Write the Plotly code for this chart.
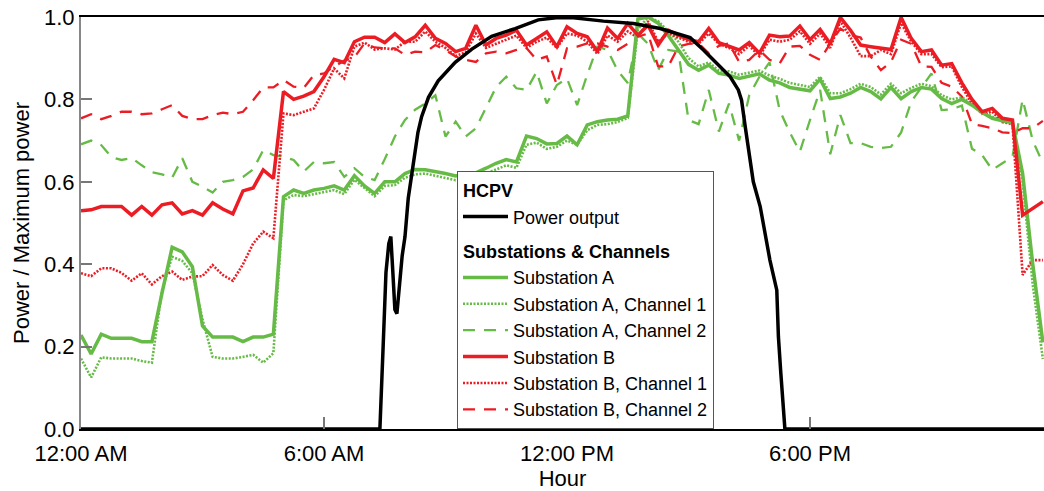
import plotly.graph_objects as go

# 15-minute time grid (hours after midnight)
hours = [k * 0.25 for k in range(96)]

sub_a = [0.228,0.182,0.23,0.22,0.22,0.22,0.212,0.212,0.33,0.441,0.43,0.394,0.25,0.223,0.223,0.223,0.212,0.223,0.223,0.23,
         0.564,0.58,0.572,0.58,0.584,0.59,0.58,0.615,0.59,0.572,0.60,0.60,0.62,0.63,0.629,0.625,0.62,0.614,0.619,0.622,
         0.633,0.645,0.654,0.648,0.711,0.705,0.692,0.693,0.711,0.69,0.738,0.746,0.75,0.752,
         0.76,0.995,1.0,0.985,0.955,0.92,0.885,0.871,0.883,0.863,
         0.859,0.851,0.857,0.862,0.847,0.84,0.829,0.825,0.821,0.849,0.802,0.806,0.815,0.829,0.819,0.801,
         0.829,0.802,0.819,0.829,0.825,0.802,0.79,0.80,0.786,0.768,0.754,0.748,0.743,0.62,0.40,0.21]

sub_a_ch1 = [0.171,0.125,0.174,0.171,0.171,0.171,0.165,0.161,0.337,0.418,0.408,0.378,0.266,0.175,0.171,0.171,0.175,0.18,0.161,0.184,
             0.555,0.568,0.565,0.57,0.575,0.58,0.57,0.605,0.585,0.565,0.59,0.592,0.61,0.618,0.62,0.615,0.61,0.604,0.61,0.612,
             0.62,0.63,0.64,0.634,0.69,0.695,0.68,0.685,0.70,0.69,0.725,0.738,0.74,0.745,
             0.755,0.97,1.0,0.99,0.965,0.94,0.9,0.88,0.89,0.87,
             0.868,0.86,0.865,0.87,0.858,0.85,0.84,0.835,0.83,0.855,0.815,0.815,0.825,0.838,0.83,0.812,
             0.838,0.815,0.828,0.838,0.832,0.81,0.8,0.805,0.79,0.772,0.758,0.75,0.745,0.6,0.35,0.17]

sub_a_ch2 = [0.691,0.70,0.689,0.66,0.653,0.658,0.64,0.623,0.618,0.61,0.657,0.60,0.588,0.574,0.60,0.604,0.612,
             0.63,0.677,0.665,0.661,0.653,0.625,0.648,0.645,0.648,0.612,0.633,0.612,0.604,0.655,0.71,
             0.75,0.775,0.79,0.81,0.71,0.746,0.71,0.73,0.78,0.83,0.855,0.827,0.823,0.867,0.79,0.835,
             0.851,0.786,0.86,0.928,0.92,0.87,0.84,0.96,0.935,0.871,0.92,0.916,0.75,0.74,0.823,0.722,
             0.79,0.70,0.81,0.855,0.89,0.774,0.72,0.673,0.75,0.823,0.667,0.762,0.694,0.694,0.685,0.682,
             0.685,0.72,0.795,0.83,0.863,0.774,0.776,0.785,0.68,0.665,0.629,0.645,0.661,0.80,0.70,0.645]

sub_b = [0.53,0.532,0.54,0.54,0.54,0.519,0.54,0.519,0.544,0.549,0.522,0.53,0.519,0.549,0.534,0.522,
         0.578,0.585,0.629,0.608,0.819,0.80,0.808,0.819,0.855,0.897,0.889,0.94,0.951,0.951,0.938,0.959,
         0.938,0.952,0.98,0.948,0.936,0.916,0.924,0.98,0.932,0.948,0.956,0.968,0.932,0.948,0.964,0.928,
         0.976,0.96,0.952,0.916,0.973,0.948,0.984,0.956,0.98,0.932,0.968,0.956,0.945,0.94,0.972,0.938,
         0.93,0.92,0.938,0.912,0.956,0.952,0.954,0.978,0.945,0.97,0.935,0.999,0.968,0.932,0.928,0.925,
         0.921,0.999,0.948,0.916,0.92,0.883,0.887,0.84,0.80,0.77,0.778,0.754,0.75,0.519,0.536,0.552]

sub_b_ch1 = [0.378,0.371,0.39,0.39,0.379,0.36,0.378,0.351,0.371,0.382,0.362,0.37,0.371,0.398,0.374,0.36,
             0.40,0.45,0.479,0.463,0.766,0.762,0.77,0.778,0.823,0.875,0.851,0.928,0.938,0.921,0.924,0.921,
             0.94,0.94,0.965,0.94,0.925,0.905,0.915,0.96,0.925,0.935,0.945,0.955,0.925,0.94,0.95,0.925,
             0.96,0.955,0.94,0.91,0.955,0.94,0.965,0.95,0.99,0.94,0.96,0.95,0.94,0.935,0.96,0.935,
             0.925,0.91,0.93,0.905,0.945,0.94,0.945,0.965,0.935,0.96,0.925,0.99,0.95,0.905,0.905,0.92,
             0.91,0.985,0.94,0.91,0.91,0.878,0.88,0.83,0.79,0.765,0.77,0.745,0.74,0.374,0.41,0.41]

sub_b_ch2 = [0.754,0.764,0.752,0.76,0.77,0.77,0.764,0.766,0.776,0.786,0.76,0.752,0.752,0.762,0.768,0.764,
             0.77,0.798,0.829,0.829,0.847,0.831,0.828,0.859,0.863,0.88,0.894,0.902,0.936,0.926,0.924,0.924,
             0.908,0.916,0.914,0.932,0.92,0.904,0.896,0.891,0.912,0.916,0.912,0.92,0.925,0.896,0.904,0.835,
             0.924,0.928,0.936,0.936,0.928,0.92,0.935,0.952,0.96,0.88,0.88,0.928,0.935,0.936,0.912,0.93,
             0.936,0.891,0.896,0.92,0.896,0.887,0.928,0.93,0.908,0.896,0.936,0.972,0.956,0.95,0.904,0.871,
             0.891,0.945,0.935,0.88,0.879,0.84,0.831,0.807,0.74,0.736,0.73,0.72,0.718,0.73,0.73,0.748]

hcpv_hours = [0, 7.38, 7.46, 7.53, 7.60, 7.65, 7.70, 7.75, 7.80, 7.85, 7.93, 8.0, 8.08, 8.17, 8.25, 8.32,
              8.41, 8.58, 8.82, 9.24, 9.65, 10.14, 10.72, 11.29, 11.79, 12.16, 12.9, 13.64, 14.3, 14.79,
              15.04, 15.37, 15.7, 16.03, 16.23, 16.31, 16.4, 16.52, 16.6, 16.77, 16.93, 17.01, 17.18,
              17.22, 17.28, 17.38, 23.78]
hcpv_power = [0, 0, 0.20, 0.38, 0.45, 0.467, 0.38, 0.29, 0.28, 0.33, 0.42, 0.467, 0.56, 0.62, 0.677, 0.72,
              0.758, 0.805, 0.845, 0.89, 0.922, 0.953, 0.972, 0.993, 0.999, 0.998, 0.99, 0.984, 0.972, 0.958,
              0.95, 0.92, 0.887, 0.855, 0.823, 0.798, 0.734, 0.653, 0.60, 0.54, 0.459, 0.41, 0.337,
              0.224, 0.135, 0, 0]

tick_vals = [0, 6, 12, 18]
tick_text = ["12:00 AM", "6:00 AM", "12:00 PM", "6:00 PM"]

GREEN = "#66bb46"
RED = "#ec1c24"
DOT = "2px,1.5px"
DASH = "12px,9px"
GROUP = "subs"
GROUP_TITLE = dict(text="<b>Substations & Channels</b>", font=dict(size=18))

fig = go.Figure()

series = [
    # (name, y, color, width, dash, legend rank)
    ("Substation A, Channel 2", sub_a_ch2, GREEN, 2.3, DASH, 4),
    ("Substation B, Channel 2", sub_b_ch2, RED, 2.3, DASH, 7),
    ("Substation A, Channel 1", sub_a_ch1, GREEN, 2.6, DOT, 3),
    ("Substation B, Channel 1", sub_b_ch1, RED, 2.6, DOT, 6),
    ("Substation A", sub_a, GREEN, 3.5, "solid", 2),
    ("Substation B", sub_b, RED, 3.5, "solid", 5),
]
for name, ys, col, w, dash, rank in series:
    fig.add_trace(go.Scatter(
        x=hours, y=ys, mode="lines", name=name,
        line=dict(color=col, width=w, dash=dash),
        legendgroup=GROUP, legendgrouptitle=GROUP_TITLE, legendrank=rank,
    ))

fig.add_trace(go.Scatter(
    x=hcpv_hours, y=hcpv_power, mode="lines", name="Power output",
    line=dict(color="black", width=3.5),
    legendgroup="hcpv", legendgrouptitle=dict(text="<b>HCPV</b>", font=dict(size=18)),
    legendrank=1,
))

fig.update_layout(
    width=1044, height=491,
    margin=dict(l=81, r=0, t=17, b=62),
    paper_bgcolor="white", plot_bgcolor="white",
    font=dict(family="Liberation Sans, Arial, sans-serif", size=22, color="black"),
    showlegend=True,
    legend=dict(
        x=(457 - 81) / 963, y=0, xanchor="left", yanchor="bottom",
        bgcolor="white", bordercolor="#555555", borderwidth=1,
        font=dict(size=18, color="black"),
        tracegroupgap=8, itemwidth=45, traceorder="grouped",
    ),
    xaxis=dict(
        range=[0, 963 / 40.5], tickvals=tick_vals, ticktext=tick_text,
        ticks="inside", ticklen=12, tickwidth=1.5, tickcolor="#777777",
        showline=True, linecolor="black", linewidth=1.5, mirror=True,
        showgrid=False, zeroline=False, ticklabelstandoff=4,
        title=dict(text="Hour", font=dict(size=22), standoff=6),
        tickfont=dict(size=22),
    ),
    yaxis=dict(
        range=[0, 1.0], tickvals=[0, 0.2, 0.4, 0.6, 0.8, 1.0], tickformat=".1f",
        ticks="inside", ticklen=11, tickwidth=1.5, tickcolor="#777777",
        showline=True, linecolor="#888888", linewidth=2,
        showgrid=False, zeroline=False,
        title=dict(text="Power / Maximum power", font=dict(size=22), standoff=8),
        tickfont=dict(size=22),
    ),
)

fig.write_html("out.html")
